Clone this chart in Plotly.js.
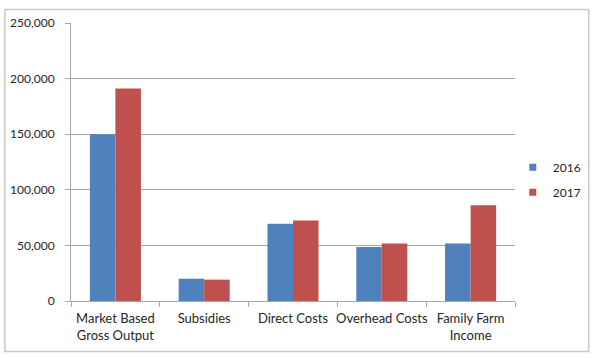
<!DOCTYPE html>
<html>
<head>
<meta charset="utf-8">
<script src="https://cdn.plot.ly/plotly-3.0.1.min.js"></script>
<style>html,body{margin:0;padding:0;background:#fff;}#chart{width:598px;height:358px;}</style>
</head>
<body>
<div id="chart"></div>
<script>
const categories = ["Market Based<br>Gross Output", "Subsidies", "Direct Costs", "Overhead Costs", "Family Farm<br>Income"];
const seriesNames = ["2016", "2017"];
const values2016 = [150000, 20000, 69500, 48500, 51800];
const values2017 = [191200, 19200, 72500, 51800, 86000];
const colors = ["#4F81BD", "#C0504D"];

const font = "Lato, 'Liberation Sans', sans-serif";
const traces = [
  {type: "bar", x: categories, y: values2016, name: seriesNames[0], marker: {color: colors[0]}, showlegend: false},
  {type: "bar", x: categories, y: values2017, name: seriesNames[1], marker: {color: colors[1]}, showlegend: false},
  {type: "scatter", mode: "markers", x: [null], y: [null], name: seriesNames[0], legendgroup: "a",
   marker: {symbol: "square", size: 7, color: colors[0]}, hoverinfo: "skip"},
  {type: "scatter", mode: "markers", x: [null], y: [null], name: seriesNames[1], legendgroup: "b",
   marker: {symbol: "square", size: 7, color: colors[1]}, hoverinfo: "skip"}
];

const layout = {
  width: 598, height: 358,
  margin: {l: 71, r: 80, t: 23, b: 57, pad: 0},
  paper_bgcolor: "#fff", plot_bgcolor: "#fff",
  font: {family: font, size: 12, color: "#262626"},
  barmode: "group", bargap: 0.425, bargroupgap: 0,
  xaxis: {
    type: "category", showgrid: false, showline: true, linecolor: "#A6A6A6", linewidth: 1,
    ticks: "outside", tickson: "boundaries", ticklen: 5, tickcolor: "#A6A6A6", tickangle: 0,
    ticklabelstandoff: 5,
    tickfont: {family: font, size: 13, color: "#262626"}, zeroline: false, fixedrange: true
  },
  yaxis: {
    range: [0, 250000], dtick: 50000, tickformat: ",d",
    showgrid: true, gridcolor: "#A6A6A6", gridwidth: 1,
    showline: true, linecolor: "#A6A6A6", linewidth: 1,
    ticks: "outside", ticklen: 5, tickcolor: "#A6A6A6", ticklabelstandoff: 8,
    tickfont: {family: font, size: 12, color: "#262626"}, zeroline: false, fixedrange: true
  },
  legend: {
    x: 0.995, y: 0.436, xanchor: "left", yanchor: "middle",
    font: {family: font, size: 12, color: "#262626"},
    traceorder: "grouped", tracegroupgap: 6, itemwidth: 30, bgcolor: "rgba(0,0,0,0)"
  },
  showlegend: true,
  shapes: [{
    type: "rect", xref: "paper", yref: "paper",
    x0: -0.149, x1: 1.166, y0: -0.182, y1: 1.049,
    line: {color: "#C8C8C8", width: 1.5}, fillcolor: "rgba(0,0,0,0)", layer: "below"
  }]
};

Plotly.newPlot("chart", traces, layout, {displayModeBar: false, staticPlot: true});
</script>
</body>
</html>
